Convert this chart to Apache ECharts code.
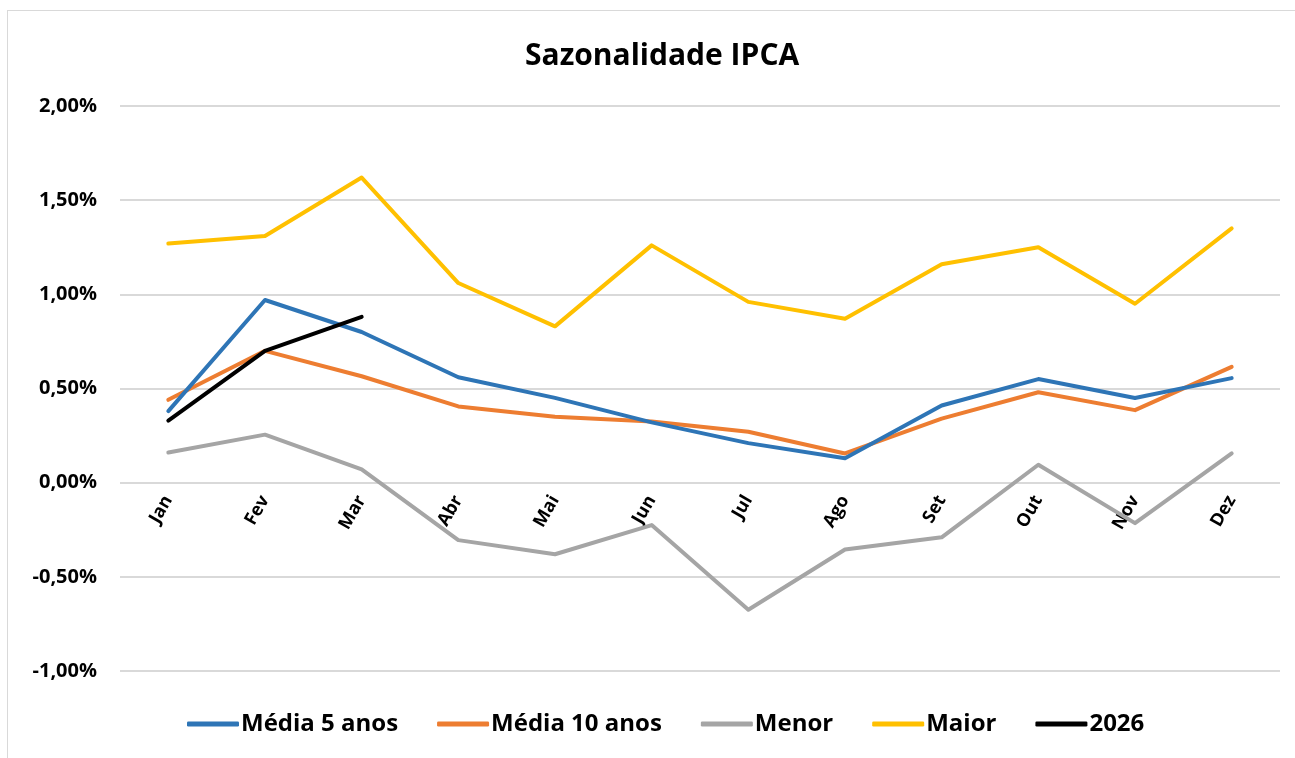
<!DOCTYPE html>
<html lang="pt">
<head>
    <meta charset="UTF-8">
    <title>Sazonalidade IPCA</title>
    <script src="https://cdn.jsdelivr.net/npm/echarts@6/dist/echarts.min.js"></script>
    <style>
        html, body { margin: 0; padding: 0; background: #fff; }
        #frame { position: absolute; left: 7px; top: 10px; width: 1300px; height: 760px; border: 1px solid #d9d9d9; box-sizing: border-box; }
        #chart { position: absolute; left: 0; top: 0; width: 1295px; height: 758px; }
    </style>
</head>
<body>
<div id="frame"></div>
<div id="chart"></div>
<script>
    // dados (em %)
    var meses = ['Jan', 'Fev', 'Mar', 'Abr', 'Mai', 'Jun', 'Jul', 'Ago', 'Set', 'Out', 'Nov', 'Dez'];
    var media5 = [0.38, 0.97, 0.80, 0.56, 0.45, 0.32, 0.21, 0.13, 0.41, 0.55, 0.45, 0.555];
    var media10 = [0.44, 0.70, 0.565, 0.405, 0.35, 0.325, 0.27, 0.155, 0.34, 0.48, 0.385, 0.615];
    var menor = [0.16, 0.255, 0.07, -0.305, -0.38, -0.225, -0.675, -0.355, -0.29, 0.095, -0.215, 0.155];
    var maior = [1.27, 1.31, 1.62, 1.06, 0.83, 1.26, 0.96, 0.87, 1.16, 1.25, 0.95, 1.35];
    var ano2026 = [0.33, 0.70, 0.88];

    var fonte = '"Open Sans", "Noto Sans", sans-serif';

    function linha(nome, dados, cor) {
        return {
            name: nome,
            type: 'line',
            data: dados,
            showSymbol: false,
            symbol: 'none',
            lineStyle: { width: 4, color: cor, cap: 'round', join: 'round' },
            itemStyle: { color: cor },
            emphasis: { disabled: true },
            animation: false
        };
    }

    var myChart = echarts.init(document.getElementById('chart'));
    var option = {
        backgroundColor: 'transparent',
        title: {
            text: 'Sazonalidade IPCA',
            left: 520,
            top: 36,
            textStyle: { fontFamily: fonte, fontSize: 30, fontWeight: 'bold', color: '#000' }
        },
        legend: {
            bottom: 17,
            left: 182,
            itemWidth: 52,
            itemHeight: 5,
            itemGap: 39,
            icon: 'roundRect',
            textStyle: { fontFamily: fonte, fontSize: 24, fontWeight: 'bold', color: '#000', padding: [0, 0, 0, -3] },
            data: ['Média 5 anos', 'Média 10 anos', 'Menor', 'Maior', '2026']
        },
        grid: { left: 120, right: 15, top: 106, bottom: 87, containLabel: false },
        xAxis: {
            type: 'category',
            data: meses,
            boundaryGap: true,
            axisLine: { onZero: false, show: false },
            axisTick: { show: false },
            axisLabel: {
                rotate: 60,
                // rótulos junto da linha do 0%
                margin: -174,
                fontFamily: fonte,
                fontSize: 18,
                fontWeight: 'bold',
                color: '#000'
            }
        },
        yAxis: {
            type: 'value',
            min: -1,
            max: 2,
            interval: 0.5,
            axisLine: { show: false },
            axisTick: { show: false },
            splitLine: { lineStyle: { color: '#d9d9d9', width: 2 } },
            axisLabel: {
                margin: 23,
                fontFamily: fonte,
                fontSize: 20,
                fontWeight: 'bold',
                color: '#000',
                formatter: function (v) {
                    return v.toFixed(2).replace('.', ',') + '%';
                }
            }
        },
        series: [
            linha('Menor', menor, '#a5a5a5'),
            linha('Maior', maior, '#ffc000'),
            linha('Média 10 anos', media10, '#ed7d31'),
            linha('Média 5 anos', media5, '#2e75b6'),
            linha('2026', ano2026, '#000000')
        ]
    };
    myChart.setOption(option);
</script>
</body>
</html>
